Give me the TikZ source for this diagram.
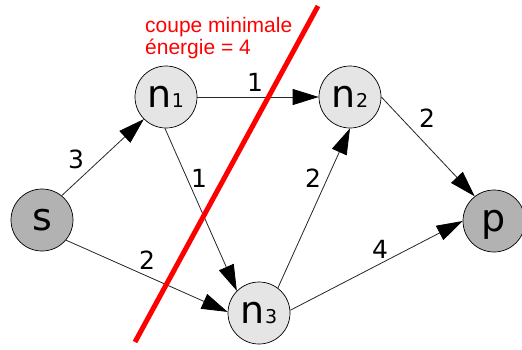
\documentclass[tikz,border=0pt]{standalone}
\usepackage{fontspec}
\setmainfont{DejaVu Sans}
\newfontfamily\cutfont{Liberation Sans}
\usetikzlibrary{arrows.meta}
\newcommand\nsub[1]{{\fontsize{19}{20}\selectfont #1}}
\begin{document}
\begin{tikzpicture}[x=1pt,y=-1pt,
  vtx/.style={circle,draw=black,line width=0.7pt,minimum size=62pt,inner sep=0pt,
    font=\fontsize{38}{40}\selectfont,text height=21pt,text depth=0pt},
  darkv/.style={vtx,fill=black!30},
  lightv/.style={vtx,fill=black!10},
  arc/.style={line width=0.8pt,draw=black!85,-{Triangle[length=26pt,width=16pt,color=black]}},
  wt/.style={font=\fontsize{25}{27}\selectfont,inner sep=0pt},
  cut/.style={red,line width=5pt},
  cuttext/.style={text=red,font=\cutfont\fontsize{21}{23}\selectfont,anchor=base west,inner sep=0pt}]
\useasboundingbox (0,0) rectangle (522,349);
\fill[white] (0,0) rectangle (522,349);

% vertices
\node[darkv]  (s)  at (42,220)  {s};
\node[lightv] (n1) at (166,97)  {n\nsub{1}};
\node[lightv] (n2) at (350,97)  {n\nsub{2}};
\node[lightv] (n3) at (259,313) {n\nsub{3}};
\node[darkv]  (p)  at (494,221) {p};

% arcs
\draw[arc] (s.51)  -- (n1.225);
\draw[arc] (s.-40) -- (n3.178);
\draw[arc] (n1.0)  -- (n2.180);
\draw[arc] (n1.-92) -- (n3.135);
\draw[arc] (n3.53) -- (n2.-90);
\draw[arc] (n3.5)  -- (p.180);
\draw[arc] (n2.0)  -- (p.128);

% weights
\node[wt] (w1) at (76,159)  {3};
\node[wt] (w2) at (147,260) {2};
\node[wt] (w3) at (255,82)  {1};
\node[wt] (w4) at (199,178) {1};
\node[wt] (w5) at (313,178) {2};
\node[wt] (w6) at (380,249) {4};
\node[wt] (w7) at (427,118) {2};

% minimal cut
\coordinate (ctop) at (318,6);
\coordinate (cbot) at (135,342);
\draw[cut] (ctop) -- (cbot);
\node[cuttext] (c1) at (145,32) {coupe minimale};
\node[cuttext] (c2) at (145,54) {énergie = 4};
\end{tikzpicture}
\end{document}
